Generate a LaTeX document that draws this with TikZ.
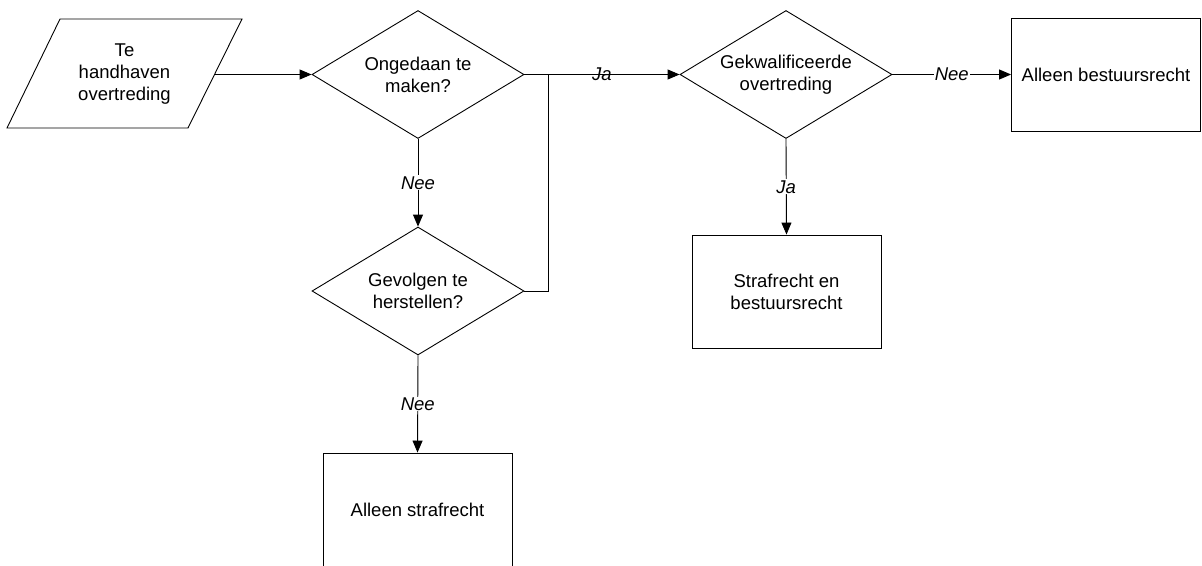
\documentclass[tikz,border=0pt]{standalone}
\usepackage{fontspec}
\setmainfont{Liberation Sans}
\usetikzlibrary{shapes.geometric,arrows.meta,calc}
\begin{document}
\begin{tikzpicture}[x=1pt,y=-1pt,
  every node/.style={font=\fontsize{18.5pt}{22pt}\selectfont, align=center},
  decision/.style={diamond, draw, line width=0.9pt, inner sep=0pt,
    minimum width=212pt, minimum height=128pt, aspect=1.65},
  outcome/.style={rectangle, draw, line width=0.9pt, inner sep=0pt,
    minimum width=189pt, minimum height=113pt},
  flow/.style={draw, line width=0.9pt, -{Triangle[length=12pt,width=10pt]}},
  tag/.style={font=\itshape\fontsize{18.5pt}{22pt}\selectfont, fill=white, inner sep=1pt},
  plaintag/.style={font=\itshape\fontsize{18.5pt}{22pt}\selectfont, inner sep=0pt}
]
\useasboundingbox (0,0) rectangle (1202,565);

% input parallelogram
\draw[line width=0.9pt] (60,19) -- (242,19) -- (188,128) -- (7,128) -- cycle;
\node (input) at (124.5,74.5) {Te\\handhaven\\overtreding};
\coordinate (inputout) at (215,74.5);

% decisions
\node[decision] (d1) at (418,74.5) {Ongedaan te\\maken?};
\node[decision] (d2) at (418,291) {Gevolgen te\\herstellen?};
\node[decision] (d3) at (786,74.5) {Gekwalificeerde\\overtreding};

% outcomes
\node[outcome] (b1) at (1106,74.5) {Alleen bestuursrecht};
\node[outcome] (b2) at (786.5,291.5) {Strafrecht en\\bestuursrecht};
\node[outcome] (b3) at (417.5,509.5) {Alleen strafrecht};

% connectors
\draw[flow] (inputout) -- (d1.west);
\draw[flow] (d1.east) -- node[plaintag] {Ja} (d3.west);
\coordinate (join) at ($(d1.east)+(24,0)$);
\draw[line width=0.9pt] (d2.east) -| (join);
\draw[flow] (d1.south) -- node[tag] {Nee} (d2.north);
\draw[flow] (d2.south) -- node[tag] {Nee} (b3.north);
\draw[flow] (d3.east) -- node[tag] {Nee} (b1.west);
\draw[flow] (d3.south) -- node[tag] {Ja} (b2.north);
\end{tikzpicture}
\end{document}
